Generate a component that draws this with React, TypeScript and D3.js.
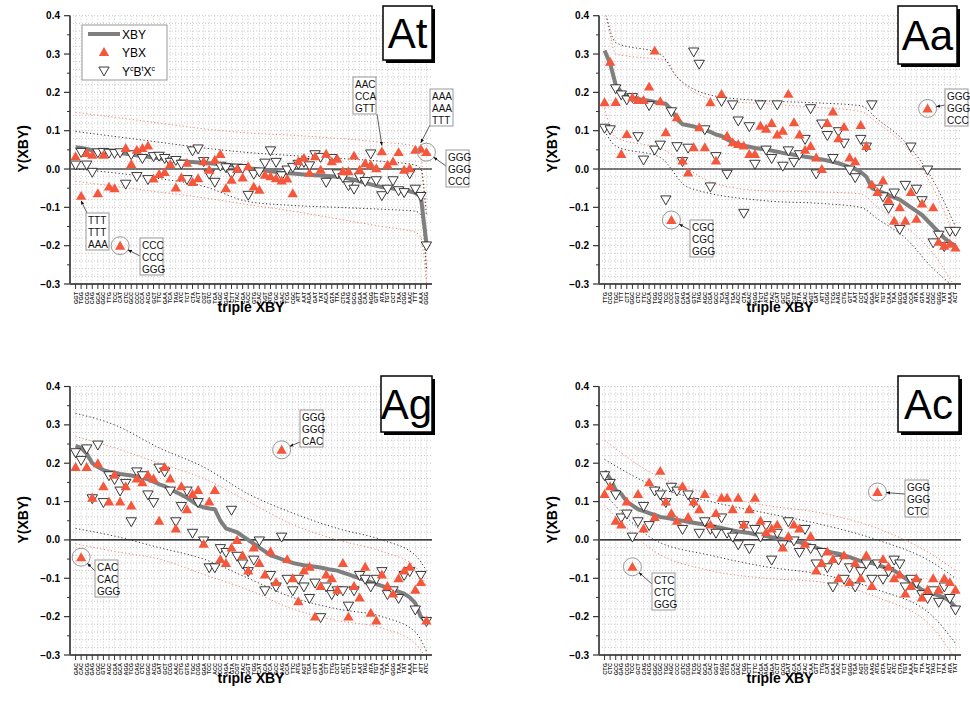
import React from "react";
import * as d3 from "d3";

// ---------- DATA ----------
const codonsAt = ["GGT","TGG","CCG","CAG","GCA","GGC","TTG","TCC","CAT","CTC","GCC","CCC","CCA","ACG","GCT","TTC","GAA","TCA","TAG","ATC","TCT","CTA","ACT","CGT","GTC","TGA","AGC","GAG","CTT","TAC","CGA","ACC","GTG","CAC","AGT","ATG","TGC","GAC","TCG","CGC","ATT","AAT","AGA","GAT","TAT","ACA","GTA","TTA","CTG","AAG","GCG","GGA","CAA","AGG","GTT","ATA","TGT","CCT","TAA","CGG","AAC","TTT","AAA","GGG"];
const codonsAa = ["TTG","CCG","TGC","TTT","CTT","GGC","CTC","TTC","GCA","TGG","ACG","TCC","CCC","GGT","CAG","GAA","GTC","TAG","AGC","CGA","GCC","TCA","GAG","TGA","ACC","CTA","GAC","AGG","TCT","ATG","TAC","CAT","GCT","GTG","CGT","TTA","CAC","AGT","GAT","ATT","CGG","TCG","AAG","CTG","GTT","AAT","CCT","ACA","GGA","ATC","TGT","CAA","TAA","GCG","AGA","CCA","ATA","GTA","AAC","CGC","GGG","TAT","AAA","ACT"];
const codonsAg = ["GAC","CAC","GCG","GAG","CGC","GTC","AGC","CGA","GCA","AGG","TCG","CAG","CTC","GGC","ACG","GAT","GCT","CCG","AAC","CTG","GTG","TGC","CGG","GGA","TCC","ACC","CCC","AGA","GTA","CGT","TAC","GGT","TGG","CAT","ACA","TCA","GCC","AAG","CCA","TTC","ATG","AGT","TGA","GTT","GAA","CTT","TTG","CCT","ACT","CTA","TCT","AAT","TAG","ATA","TGT","CAA","TTA","GGG","TAA","TAT","AAA","TTT","ATT","ATC"];
const codonsAc = ["CTG","CTC","GCC","GAG","CCG","TCC","GCT","CAG","ACG","GGC","CGC","TGC","AGC","CCC","GTC","CGG","TCG","ACC","GCA","CAC","GGT","AGG","GTG","CCA","GAC","TGG","CTT","TTC","CGA","AGA","GGA","CCT","GCG","GAT","ACA","TCA","TAC","CAA","GTT","TTG","CAT","GAA","AAC","TCT","GGG","TGA","AGT","CGT","AAG","ATG","GTA","ACT","ATC","CTA","TGT","AAA","ATT","TTA","AAT","TAG","TTT","TAA","ATA","TAT"];

const xbyAt = [0.057,0.055,0.052,0.049,0.047,0.046,0.045,0.044,0.042,0.040,0.038,0.036,0.034,0.032,0.030,0.028,0.026,0.024,0.022,0.020,0.019,0.018,0.017,0.016,0.015,0.014,0.013,0.012,0.010,0.008,0.005,0.002,0.000,-0.002,-0.004,-0.006,-0.008,-0.010,-0.011,-0.012,-0.013,-0.014,-0.015,-0.016,-0.017,-0.018,-0.019,-0.020,-0.022,-0.025,-0.028,-0.032,-0.036,-0.040,-0.044,-0.047,-0.049,-0.051,-0.053,-0.055,-0.058,-0.062,-0.072,-0.195];
const ybxAt = [0.033,-0.07,0.042,0.037,-0.063,0.037,-0.046,-0.05,-0.2,0.055,0.013,0.05,0.055,0.061,-0.025,-0.013,-0.008,0.013,-0.048,-0.022,0.016,-0.034,-0.024,0.02,-0.002,0.024,0.039,-0.05,-0.028,0.0,-0.022,0.007,-0.046,-0.054,-0.015,-0.019,-0.024,-0.03,-0.025,-0.063,0.02,0.029,-0.01,0.033,-0.002,0.04,0.02,0.027,-0.006,-0.006,0.035,-0.002,0.015,0.011,0.002,0.046,0.011,0.02,0.044,-0.002,0.002,0.05,0.053,0.044];
const compAt = [0.013,0.046,0.013,-0.006,0.045,0.046,0.044,0.043,0.045,-0.037,0.04,-0.017,0.03,-0.025,0.035,0.036,0.03,0.02,0.025,0.015,-0.025,0.05,0.055,0.022,-0.011,-0.032,0.01,0.006,-0.01,0.005,0.004,-0.066,-0.011,-0.005,0.018,0.05,0.02,-0.015,0.0,0.007,0.015,0.02,0.011,0.04,0.033,-0.032,0.03,-0.01,-0.02,-0.041,-0.05,-0.02,-0.03,0.042,-0.028,-0.067,-0.05,-0.028,-0.054,-0.059,-0.01,-0.05,-0.069,-0.198];

const xbyAa = [0.309,0.275,0.22,0.2,0.192,0.187,0.183,0.18,0.178,0.175,0.172,0.17,0.155,0.13,0.117,0.114,0.111,0.106,0.102,0.097,0.09,0.086,0.077,0.07,0.065,0.061,0.058,0.055,0.053,0.051,0.048,0.045,0.042,0.04,0.037,0.035,0.032,0.03,0.027,0.025,0.022,0.019,0.015,0.01,0.005,0.0,-0.008,-0.02,-0.05,-0.056,-0.062,-0.068,-0.074,-0.08,-0.09,-0.1,-0.11,-0.12,-0.135,-0.15,-0.165,-0.18,-0.192,-0.2];
const ybxAa = [0.174,0.28,0.175,0.039,0.091,0.187,0.18,0.18,0.215,0.309,0.177,0.096,-0.133,0.135,0.022,-0.009,0.057,0.109,0.057,0.174,0.022,0.196,0.087,0.07,0.065,0.061,0.039,0.039,0.113,0.105,0.12,0.09,0.1,0.196,0.122,0.09,0.05,0.06,0.03,0.0,0.12,0.15,0.08,0.11,0.03,0.02,0.115,0.06,-0.04,-0.06,-0.03,-0.08,-0.135,-0.1,-0.135,-0.06,-0.13,-0.09,0.158,-0.1,-0.19,-0.2,-0.195,-0.205];
const compAa = [0.109,0.105,0.212,0.196,0.183,0.189,0.087,0.026,0.168,0.052,0.065,-0.078,0.152,0.061,0.022,0.057,0.308,0.276,0.105,-0.044,0.035,0.179,-0.011,0.17,0.128,-0.113,0.113,0.015,0.17,0.052,0.03,0.17,0.01,0.05,0.02,0.04,0.08,0.16,-0.01,0.12,0.09,0.03,0.1,0.07,0.0,-0.02,0.08,0.06,0.17,-0.05,-0.07,-0.1,-0.06,-0.155,-0.04,0.06,-0.05,-0.08,0.0,-0.19,-0.17,-0.2,-0.16,-0.16];

const xbyAg = [0.245,0.24,0.225,0.2,0.19,0.182,0.178,0.175,0.172,0.17,0.168,0.165,0.162,0.158,0.152,0.145,0.14,0.132,0.125,0.118,0.11,0.1,0.09,0.085,0.082,0.08,0.05,0.03,0.025,0.02,0.01,0.0,-0.01,-0.02,-0.03,-0.04,-0.045,-0.05,-0.055,-0.06,-0.063,-0.066,-0.068,-0.07,-0.072,-0.075,-0.078,-0.08,-0.085,-0.09,-0.095,-0.1,-0.105,-0.11,-0.115,-0.12,-0.125,-0.13,-0.135,-0.14,-0.15,-0.165,-0.2,-0.215];
const ybxAg = [0.19,-0.045,0.19,0.11,0.2,0.14,0.1,0.17,0.1,0.14,0.09,0.16,0.15,0.17,0.16,0.05,0.19,0.16,0.03,0.14,0.08,0.12,0.13,-0.01,0.1,0.13,-0.05,-0.06,-0.02,0.0,-0.04,-0.08,-0.02,-0.06,-0.09,-0.03,-0.11,0.235,-0.05,-0.1,-0.16,-0.08,-0.07,-0.2,-0.12,-0.09,-0.1,-0.13,-0.06,-0.2,-0.12,-0.15,-0.07,-0.19,-0.21,-0.09,-0.12,-0.14,-0.1,-0.08,-0.07,-0.13,-0.11,-0.21];
const compAg = [0.23,0.21,0.24,0.11,0.25,0.1,0.17,0.16,0.13,0.15,0.05,0.18,0.17,0.12,0.1,0.19,0.18,0.13,0.05,0.09,0.13,0.02,0.1,0.0,-0.07,-0.07,-0.02,-0.03,0.08,-0.04,-0.06,-0.08,-0.05,0.0,-0.13,-0.09,-0.12,0.01,-0.1,-0.13,-0.1,-0.12,-0.15,-0.11,-0.2,-0.12,-0.14,-0.13,-0.13,-0.17,-0.13,-0.09,-0.1,-0.12,-0.1,-0.08,-0.14,-0.13,-0.15,-0.09,-0.08,-0.18,-0.09,-0.21];

const xbyAc = [0.18,0.16,0.13,0.12,0.1,0.09,0.08,0.075,0.07,0.065,0.06,0.058,0.055,0.052,0.05,0.047,0.045,0.042,0.04,0.037,0.034,0.031,0.028,0.025,0.022,0.02,0.018,0.015,0.012,0.01,0.007,0.005,0.002,0.0,-0.003,-0.006,-0.01,-0.015,-0.02,-0.025,-0.03,-0.033,-0.036,-0.04,-0.045,-0.05,-0.055,-0.058,-0.06,-0.065,-0.07,-0.075,-0.08,-0.09,-0.1,-0.11,-0.12,-0.13,-0.135,-0.14,-0.145,-0.15,-0.16,-0.175];
const ybxAc = [0.12,0.14,0.05,0.04,0.1,-0.07,0.12,0.03,0.15,0.06,0.18,0.1,0.07,0.05,0.14,0.06,0.1,0.08,0.12,0.04,0.07,0.11,0.11,0.08,0.11,0.04,0.08,0.11,0.05,0.02,0.03,0.04,-0.02,0.01,0.04,0.03,-0.01,0.01,-0.08,-0.06,-0.03,-0.05,-0.1,-0.04,-0.11,-0.06,-0.1,-0.04,-0.12,0.125,-0.05,-0.07,-0.1,-0.09,-0.14,-0.12,-0.1,-0.15,-0.13,-0.1,-0.13,-0.1,-0.11,-0.13];
const compAc = [0.17,0.15,0.12,0.06,0.07,0.01,0.05,0.09,0.04,0.13,0.12,0.1,0.14,0.13,0.03,0.12,0.1,0.02,0.05,0.03,0.02,0.06,0.02,0.01,-0.01,0.04,-0.02,0.03,0.01,0.04,-0.05,0.02,-0.01,0.05,0.0,-0.03,0.03,-0.02,-0.06,-0.03,-0.07,-0.12,-0.05,-0.1,-0.07,-0.12,-0.08,-0.06,-0.1,-0.06,-0.1,-0.08,-0.05,-0.06,-0.12,-0.1,-0.11,-0.14,-0.15,-0.13,-0.16,-0.12,-0.15,-0.18];

// confidence envelopes, read as [codon index, value]
const envAt = {
  blackUp: [[1,0.098],[8,0.085],[16,0.07],[24,0.055],[32,0.043],[40,0.035],[48,0.028],[56,0.02],[62,0.01],[63,0.0],[64,-0.12]],
  blackLo: [[1,0.0],[8,-0.01],[16,-0.025],[24,-0.045],[32,-0.085],[40,-0.095],[48,-0.1],[56,-0.105],[62,-0.11],[63,-0.12],[64,-0.26]],
  redUp: [[1,0.148],[8,0.135],[16,0.12],[24,0.105],[32,0.094],[40,0.088],[48,0.08],[56,0.07],[62,0.06],[63,0.04],[64,-0.29]],
  redLo: [[1,-0.032],[8,-0.045],[16,-0.06],[24,-0.075],[32,-0.093],[40,-0.11],[48,-0.13],[56,-0.15],[62,-0.165],[63,-0.18],[64,-0.3]],
};
const envAa = {
  blackUp: [[1,0.42],[3,0.33],[11,0.3],[14,0.24],[21,0.19],[30,0.178],[40,0.172],[47,0.165],[50,0.13],[55,0.07],[60,-0.03],[64,-0.15]],
  blackLo: [[1,0.1],[3,0.06],[11,0.03],[16,-0.048],[30,-0.083],[40,-0.09],[47,-0.1],[50,-0.13],[55,-0.18],[60,-0.26],[64,-0.31]],
  redUp: [[1,0.42],[2,0.35],[3,0.3],[5,0.295],[12,0.283],[14,0.24],[21,0.18],[30,0.17],[40,0.16],[47,0.15],[50,0.12],[55,0.06],[60,-0.05],[64,-0.18]],
  redLo: [[1,0.16],[3,0.083],[12,0.048],[16,0.0],[21,-0.039],[30,-0.057],[40,-0.06],[47,-0.065],[50,-0.1],[55,-0.15],[60,-0.22],[64,-0.31]],
};
const envAg = {
  blackUp: [[1,0.33],[8,0.3],[16,0.24],[24,0.19],[32,0.12],[40,0.07],[48,0.03],[56,0.0],[62,-0.04],[64,-0.08]],
  blackLo: [[1,0.03],[8,0.01],[16,-0.02],[24,-0.05],[32,-0.1],[40,-0.15],[48,-0.18],[56,-0.2],[62,-0.24],[64,-0.29]],
  redUp: [[1,0.27],[8,0.24],[16,0.2],[24,0.16],[32,0.1],[40,0.04],[48,0.0],[56,-0.03],[62,-0.07],[64,-0.12]],
  redLo: [[1,-0.01],[8,-0.03],[16,-0.05],[24,-0.09],[32,-0.13],[40,-0.18],[48,-0.21],[56,-0.23],[62,-0.27],[64,-0.31]],
};
const envAc = {
  blackUp: [[1,0.21],[10,0.14],[20,0.1],[30,0.07],[40,0.04],[50,0.0],[60,-0.06],[64,-0.1]],
  blackLo: [[1,0.12],[10,0.0],[20,-0.04],[30,-0.07],[40,-0.09],[50,-0.13],[60,-0.2],[64,-0.27]],
  redUp: [[1,0.26],[10,0.17],[20,0.12],[30,0.09],[40,0.07],[50,0.03],[60,-0.04],[64,-0.08]],
  redLo: [[1,0.09],[10,-0.03],[20,-0.08],[30,-0.1],[40,-0.11],[50,-0.15],[60,-0.23],[64,-0.31]],
};

const yTicks = [-0.3, -0.2, -0.1, 0.0, 0.1, 0.2, 0.3, 0.4];
const legendLabels = ["XBY", "YBX"];

const notesAt = [
  { codon: 2, lines: ["TTT", "TTT", "AAA"], circle: false },
  { codon: 9, lines: ["CCC", "CCC", "GGG"], circle: true },
  { codon: 56, lines: ["AAC", "CCA", "GTT"], circle: false },
  { codon: 63, lines: ["AAA", "AAA", "TTT"], circle: false },
  { codon: 64, lines: ["GGG", "GGG", "CCC"], circle: true },
];
const notesAa = [
  { codon: 13, lines: ["CGC", "CGC", "GGG"], circle: true },
  { codon: 59, lines: ["GGG", "GGG", "CCC"], circle: true },
];
const notesAg = [
  { codon: 2, lines: ["CAC", "CAC", "GGG"], circle: true },
  { codon: 38, lines: ["GGG", "GGG", "CAC"], circle: true },
];
const notesAc = [
  { codon: 6, lines: ["CTC", "CTC", "GGG"], circle: true },
  { codon: 50, lines: ["GGG", "GGG", "CTC"], circle: true },
];

// ---------- LAYOUT ----------
const RED = "#F4573B";
const GRAY = "#7f7f7f";
const FONT = "Arial, 'Liberation Sans', Helvetica, sans-serif";

type Box = { bx: number; by: number; ax0: number; ay0: number };

const panels = [
  { id: "At", codons: codonsAt, xby: xbyAt, ybx: ybxAt, comp: compAt, env: envAt, notes: notesAt,
    left: 70, right: 432, top: 15.7, bottom: 284, label: { x: 383, y: 6, w: 49, h: 54 },
    boxes: [
      { bx: 86, by: 213, ax0: 87, ay0: 213 },
      { bx: 140, by: 238, ax0: 140, ay0: 256 },
      { bx: 353, by: 77, ax0: 377, ay0: 114 },
      { bx: 430, by: 89, ax0: 430, ay0: 125 },
      { bx: 446, by: 150, ax0: 446, ay0: 166 },
    ] as Box[] },
  { id: "Aa", codons: codonsAa, xby: xbyAa, ybx: ybxAa, comp: compAa, env: envAa, notes: notesAa,
    left: 599, right: 961, top: 15.7, bottom: 284, label: { x: 898, y: 6, w: 59, h: 58 },
    boxes: [
      { bx: 690, by: 220, ax0: 690, ay0: 230 },
      { bx: 945, by: 89, ax0: 945, ay0: 105 },
    ] as Box[] },
  { id: "Ag", codons: codonsAg, xby: xbyAg, ybx: ybxAg, comp: compAg, env: envAg, notes: notesAg,
    left: 70, right: 432, top: 386.5, bottom: 655, label: { x: 381, y: 376, w: 51, h: 56 },
    boxes: [
      { bx: 95, by: 560, ax0: 95, ay0: 571 },
      { bx: 300, by: 410, ax0: 300, ay0: 442 },
    ] as Box[] },
  { id: "Ac", codons: codonsAc, xby: xbyAc, ybx: ybxAc, comp: compAc, env: envAc, notes: notesAc,
    left: 599, right: 961, top: 386.5, bottom: 655, label: { x: 898, y: 376, w: 61, h: 56 },
    boxes: [
      { bx: 652, by: 573, ax0: 652, ay0: 584 },
      { bx: 905, by: 480, ax0: 905, ay0: 494 },
    ] as Box[] },
];

const triUp = d3.symbol().type(d3.symbolTriangle).size(46)() as string;

function Panel({ p }: { p: (typeof panels)[number] }) {
  const x = d3.scaleLinear().domain([0, 65]).range([p.left, p.right]);
  const y = d3.scaleLinear().domain([-0.3, 0.4]).range([p.bottom, p.top]);
  const idx = d3.range(1, p.codons.length + 1);
  const line = d3.line<number>().x((_, i) => x(i + 1)).y((d) => y(d));
  const envLine = d3.line<number[]>().x((d) => x(d[0])).y((d) => y(d[1])).curve(d3.curveMonotoneX);
  const clipId = "clip-" + p.id;
  const gridY = d3.range(-0.3, 0.4001, 0.02);
  const minor = d3.range(-0.25, 0.4, 0.1);
  const midX = (p.left + p.right) / 2;
  const midY = (p.top + p.bottom) / 2;
  return (
    <g>
      <defs>
        <clipPath id={clipId}>
          <rect x={p.left} y={p.top} width={p.right - p.left} height={p.bottom - p.top} />
        </clipPath>
      </defs>
      <g stroke="#c9c9c9" strokeWidth={1} strokeDasharray="1,2">
        {idx.map((i) => (
          <line key={"gx" + i} x1={x(i)} x2={x(i)} y1={p.top} y2={p.bottom} />
        ))}
        {gridY.map((v, k) => (
          <line key={"gy" + k} x1={p.left} x2={p.right} y1={y(v)} y2={y(v)} />
        ))}
      </g>
      <line x1={p.left} x2={p.right} y1={y(0)} y2={y(0)} stroke="#000" strokeWidth={1.2} />
      <g clipPath={`url(#${clipId})`} fill="none" strokeWidth={1} strokeDasharray="1.2,2.4">
        <path d={envLine(p.env.redUp as number[][]) || ""} stroke="#f08070" />
        <path d={envLine(p.env.redLo as number[][]) || ""} stroke="#f08070" />
        <path d={envLine(p.env.blackUp as number[][]) || ""} stroke="#333" />
        <path d={envLine(p.env.blackLo as number[][]) || ""} stroke="#333" />
      </g>
      <path d={line(p.xby) || ""} fill="none" stroke={GRAY} strokeWidth={4} strokeLinejoin="round" />
      {p.comp.map((v, i) => (
        <path key={"c" + i} d={triUp} transform={`translate(${x(i + 1)},${y(v)}) rotate(180)`} fill="#fff" stroke="#222" strokeWidth={0.9} />
      ))}
      {p.ybx.map((v, i) => (
        <path key={"r" + i} d={triUp} transform={`translate(${x(i + 1)},${y(v) + 1})`} fill={RED} />
      ))}
      {p.notes.map((n, k) => {
        const px = x(n.codon);
        const py = y(p.ybx[n.codon - 1]);
        const b = p.boxes[k];
        const dist = Math.hypot(b.ax0 - px, b.ay0 - py);
        const tx = n.circle ? px + (b.ax0 - px) * (9 / dist) : px;
        const ty = n.circle ? py + (b.ay0 - py) * (9 / dist) : py + (b.ay0 > py ? 5 : -6);
        return (
          <g key={"n" + k}>
            {n.circle && <circle cx={px} cy={py} r={9} fill="none" stroke="#999" strokeWidth={1} />}
            <line x1={b.ax0} y1={b.ay0} x2={tx} y2={ty} stroke="#333" strokeWidth={0.8} markerEnd="url(#arrow)" />
            <rect x={b.bx} y={b.by} width={23} height={37} fill="#fff" stroke="#999" strokeWidth={1} />
            {n.lines.map((t, j) => (
              <text key={j} x={b.bx + 2} y={b.by + 11 + j * 12} fontSize={10} fontFamily={FONT} fill="#111">{t}</text>
            ))}
          </g>
        );
      })}
      <line x1={p.left} x2={p.right} y1={p.bottom} y2={p.bottom} stroke="#555" strokeWidth={2} />
      {idx.map((i) => (
        <line key={"xt" + i} x1={x(i)} x2={x(i)} y1={p.bottom} y2={p.bottom + 5} stroke="#333" strokeWidth={1} />
      ))}
      {p.codons.map((c, i) => (
        <text key={"xl" + i} transform={`translate(${x(i + 1) + 2},${p.bottom + 8}) rotate(-90)`} textAnchor="end"
          fontSize={5.5} fontWeight="bold" fontFamily={FONT} fill="#222">{c}</text>
      ))}
      <line x1={p.left} x2={p.left} y1={p.top} y2={p.bottom} stroke="#555" strokeWidth={2} />
      {yTicks.map((v) => (
        <g key={"yt" + v}>
          <line x1={p.left - 6} x2={p.left} y1={y(v)} y2={y(v)} stroke="#333" strokeWidth={1.2} />
          <text x={p.left - 10} y={y(v)} dy="0.35em" textAnchor="end" fontSize={10} fontWeight="bold" fontFamily={FONT}>
            {d3.format(".1f")(v)}
          </text>
        </g>
      ))}
      {minor.map((v, k) => (
        <line key={"ym" + k} x1={p.left - 3} x2={p.left} y1={y(v)} y2={y(v)} stroke="#333" strokeWidth={1} />
      ))}
      <text x={midX} y={p.bottom + 28} textAnchor="middle" fontSize={14} fontWeight="bold" fontFamily={FONT}>triple XBY</text>
      <text transform={`translate(${p.left - 42},${midY - 1}) rotate(-90)`} textAnchor="middle" fontSize={14}
        fontWeight="bold" fontFamily={FONT}>Y(XBY)</text>
      <rect x={p.label.x + 3} y={p.label.y + 3} width={p.label.w} height={p.label.h} fill="#000" />
      <rect x={p.label.x} y={p.label.y} width={p.label.w} height={p.label.h} fill="#fff" stroke="#000" strokeWidth={1.5} />
      <text x={p.label.x + p.label.w / 2} y={p.label.y + p.label.h / 2 + 15} textAnchor="middle" fontSize={42}
        fontFamily={FONT}>{p.id}</text>
    </g>
  );
}

export default function App() {
  return (
    <div style={{ position: "absolute", left: 0, top: 0 }}>
      <svg width={970} height={704} style={{ display: "block", background: "#fff" }}>
        <defs>
          <marker id="arrow" viewBox="0 0 10 10" refX="9" refY="5" markerWidth="5" markerHeight="5" orient="auto">
            <path d="M0,1 L10,5 L0,9 z" fill="#111" />
          </marker>
        </defs>
        {panels.map((p) => (
          <Panel key={p.id} p={p} />
        ))}
        <g fontFamily={FONT} fontSize={12}>
          <rect x={82} y={25} width={85} height={55} fill="#fff" stroke="#999" strokeWidth={1} />
          <line x1={88} x2={120} y1={34} y2={34} stroke={GRAY} strokeWidth={4} />
          <text x={122} y={38.5}>{legendLabels[0]}</text>
          <path d={triUp} transform="translate(104,53)" fill={RED} />
          <text x={122} y={57}>{legendLabels[1]}</text>
          <path d={triUp} transform="translate(104,70) rotate(180)" fill="#fff" stroke="#222" strokeWidth={0.9} />
          <text x={122} y={76}>
            Y<tspan fontSize={7} dy={-5}>c</tspan>
            <tspan dy={5}>B</tspan>
            <tspan fontSize={7} dy={-5}>t</tspan>
            <tspan dy={5}>X</tspan>
            <tspan fontSize={7} dy={-5}>c</tspan>
          </text>
        </g>
      </svg>
    </div>
  );
}
